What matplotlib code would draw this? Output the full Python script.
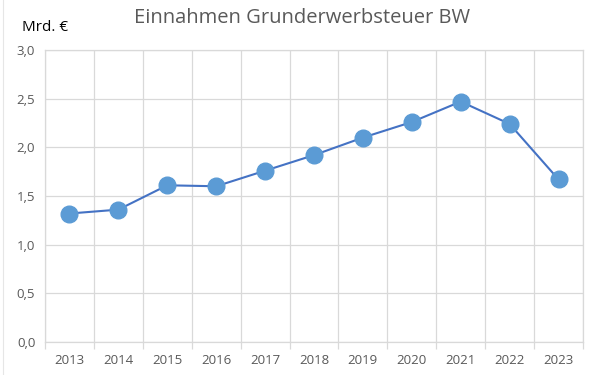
import matplotlib.pyplot as plt
import numpy as np

plt.rcParams['font.family'] = ['Open Sans', 'DejaVu Sans']

# Daten
jahre = ['2013', '2014', '2015', '2016', '2017', '2018', '2019', '2020', '2021', '2022', '2023']
einnahmen = [1.32, 1.36, 1.61, 1.60, 1.76, 1.92, 2.10, 2.26, 2.47, 2.24, 1.67]
y_ticks = [0.0, 0.5, 1.0, 1.5, 2.0, 2.5, 3.0]

grau = '#595959'
gitter = '#D9D9D9'

fig = plt.figure(figsize=(5.89, 3.75), dpi=100)
ax = fig.add_axes([45/589, 33/375, 538/589, 292/375])

x = np.arange(len(jahre))
ax.plot(x, einnahmen, color='#4472C4', lw=1.5, marker='o', markersize=12,
        markerfacecolor='#5B9BD5', markeredgecolor='#5B9BD5', zorder=3)

ax.set_xlim(-0.5, len(jahre) - 0.5)
ax.set_ylim(0, 3)
ax.set_yticks(y_ticks)
ax.set_yticklabels([f'{v:.1f}'.replace('.', ',') for v in y_ticks])
ax.set_xticks(x)
ax.set_xticklabels(jahre)
ax.set_xticks(np.arange(-0.5, len(jahre)), minor=True)

ax.grid(True, which='major', axis='y', color=gitter, lw=0.9)
ax.grid(True, which='minor', axis='x', color=gitter, lw=0.9)
ax.tick_params(axis='x', which='major', length=0, pad=9, labelsize=9.5, labelcolor=grau)
ax.tick_params(axis='x', which='minor', length=5, color=gitter, width=0.9)
ax.tick_params(axis='y', length=0, pad=7, labelsize=9.5, labelcolor=grau)
for s in ax.spines.values():
    s.set_color(gitter)
    s.set_linewidth(0.9)

fig.text(0.513, 0.953, 'Einnahmen Grunderwerbsteuer BW', ha='center', va='center',
         fontsize=14.5, color=grau)
fig.text(22/589, 0.926, 'Mrd. €', ha='left', va='center', fontsize=11, color='black')

# schwache Linie am linken Rand (Tabellenraster)
fig.add_artist(plt.Line2D([3/589, 3/589], [0, 1], color='#E6E6E6', lw=0.8))

fig.savefig('out.png', dpi=100)
